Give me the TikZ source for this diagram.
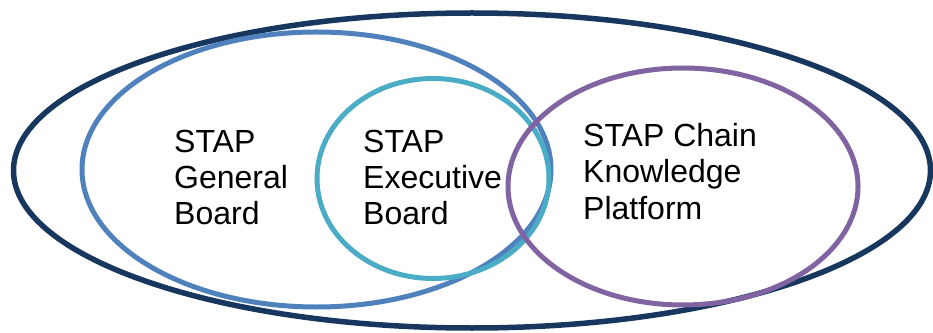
\documentclass[tikz,border=0pt]{standalone}
\usepackage{fontspec}
\setmainfont{Liberation Sans}
\definecolor{navyring}{HTML}{17375E}
\definecolor{bluering}{HTML}{4F81BD}
\definecolor{tealring}{HTML}{4BACC6}
\definecolor{purplering}{HTML}{8064A2}
\begin{document}
\begin{tikzpicture}[x=1pt,y=1pt,
    ring/.style={draw=#1, line width=5pt},
    label/.style={anchor=north west, inner sep=0pt, align=left,
                  font=\fontsize{32}{36.2}\selectfont}]
\useasboundingbox (0,0) rectangle (933,332);
\coordinate (outer) at (472,161.5);    % whole chain
\coordinate (general) at (316.5,162.5);
\coordinate (executive) at (433,153.5);
\coordinate (platform) at (683,145.5);
\draw[ring=navyring, line width=5.5pt] (outer) ellipse [x radius=458.5pt, y radius=157.5pt];
\draw[ring=bluering] (general) ellipse [x radius=234.5pt, y radius=137.5pt];
\draw[ring=tealring] (executive) ellipse [x radius=116pt, y radius=100pt];
\draw[ring=purplering] (platform) ellipse [x radius=175pt, y radius=118.5pt];
\node[label] (generaltext) at (174,202) {STAP\\General\\Board};
\node[label] (executivetext) at (363,202) {STAP\\Executive\\Board};
\node[label] (platformtext) at (583,208.7) {STAP Chain\\Knowledge\\Platform};
\end{tikzpicture}
\end{document}
